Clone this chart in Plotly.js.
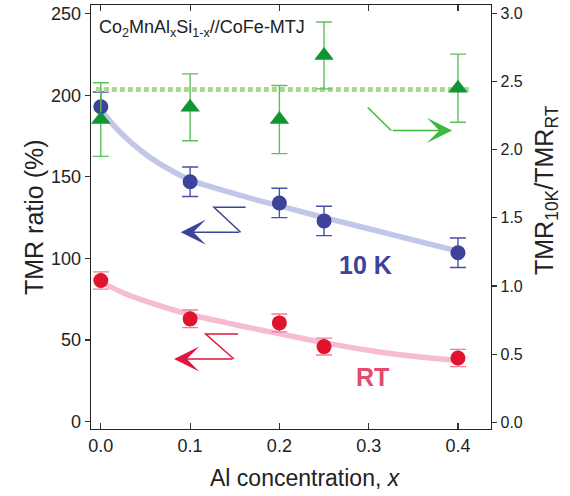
<!DOCTYPE html>
<html>
<head>
<meta charset="utf-8">
<script src="https://cdn.plot.ly/plotly-3.0.1.min.js"></script>
<style>html,body{margin:0;padding:0;background:#fff;}#chart{width:570px;height:496px;}</style>
</head>
<body>
<div id="chart"></div>
<script>
// Al concentration
const alX = [0.0, 0.1, 0.2, 0.25, 0.4];
// TMR ratio at 10 K (%)
const tmr10K = [193, 147, 134, 123, 103.5];
const tmr10KErr = [9, 9, 9, 9, 9];
// TMR ratio at RT (%)
const tmrRT = [86.5, 63, 60.5, 46, 39];
const tmrRTErr = [5.3, 5.4, 5.5, 5.2, 5.3];
// TMR10K / TMRRT (right axis)
const ratio = [2.22, 2.31, 2.22, 2.69, 2.45];
const ratioErr = [0.27, 0.245, 0.25, 0.245, 0.25];
// fitted guide curves
const fit10KX = [0, 0.013, 0.026, 0.045, 0.063, 0.082, 0.1, 0.14, 0.175, 0.21, 0.25, 0.3, 0.35, 0.4];
const fit10KY = [191, 182.5, 175, 166, 159, 153, 148, 141.2, 135.8, 130.8, 125, 118.2, 111.3, 104.5];
const fitRTX = [0, 0.026, 0.063, 0.1, 0.14, 0.175, 0.21, 0.25, 0.31, 0.35, 0.4];
const fitRTY = [85.5, 78.7, 71.5, 65.5, 60.7, 56.6, 52.8, 48.4, 42.8, 40.1, 37.4];
// average ratio line
const avgX = [-0.0055, 0.4155];
const avgY = [2.44, 2.44];

const FONT = 'Liberation Sans, Arial, Helvetica, sans-serif';
const blue = '#3d429a', red = '#e0142c', green = '#119433';

const traces = [
  {x: fit10KX, y: fit10KY, mode: 'lines', line: {color: '#c2c7e8', width: 5.5, shape: 'spline', smoothing: 0.6}, hoverinfo: 'skip', showlegend: false},
  {x: fitRTX, y: fitRTY, mode: 'lines', line: {color: '#f6bdd0', width: 5.5, shape: 'spline', smoothing: 0.6}, hoverinfo: 'skip', showlegend: false},
  {x: avgX, y: avgY, yaxis: 'y2', mode: 'lines', line: {color: '#a9d98c', width: 5, dash: '5px,3px'}, showlegend: false},
  {x: alX, y: tmr10K, mode: 'markers', marker: {color: blue, size: 15, symbol: 'circle'},
   error_y: {type: 'data', array: tmr10KErr, color: '#4a4fa2', thickness: 1.4, width: 8}, showlegend: false},
  {x: alX, y: tmrRT, mode: 'markers', marker: {color: red, size: 15, symbol: 'circle'},
   error_y: {type: 'data', array: tmrRTErr, color: '#f07ea0', thickness: 1.4, width: 8}, showlegend: false},
  {x: alX, y: ratio, yaxis: 'y2', mode: 'markers', marker: {color: green, size: 17, symbol: 'triangle-up'},
   error_y: {type: 'data', array: ratioErr, color: '#5cc05c', thickness: 1.4, width: 8}, showlegend: false}
];

function arrow(tipX, tipY, tailX, tailY, yref, color) {
  return {x: tipX, y: tipY, ax: tailX, ay: tailY, xref: 'x', yref: yref, axref: 'x', ayref: yref,
    text: '', showarrow: true, arrowhead: 3, arrowsize: 2.8, arrowwidth: 1.5, arrowcolor: color, standoff: 0};
}

const layout = {
  width: 570, height: 496,
  margin: {l: 91, r: 79, t: 5, b: 67},
  paper_bgcolor: '#fff', plot_bgcolor: '#fff',
  font: {family: FONT, color: '#222'},
  showlegend: false,
  xaxis: {
    range: [-0.011, 0.437], tickvals: [0, 0.1, 0.2, 0.3, 0.4], ticktext: ['0.0', '0.1', '0.2', '0.3', '0.4'],
    ticks: 'inside', ticklen: 6, tickwidth: 1.2, tickcolor: '#333', mirror: 'ticks',
    showline: true, linecolor: '#222', linewidth: 1.3, showgrid: false, zeroline: false,
    tickfont: {size: 18, family: FONT, color: '#222'}
  },
  yaxis: {
    range: [-4.5, 255.3], tickvals: [0, 50, 100, 150, 200, 250],
    ticks: 'outside', ticklen: 5, tickwidth: 1.2, tickcolor: '#333',
    showline: true, linecolor: '#222', linewidth: 1.3, showgrid: false, zeroline: false,
    tickfont: {size: 18, family: FONT, color: '#222'}
  },
  yaxis2: {
    overlaying: 'y', side: 'right', anchor: 'x',
    range: [-0.049, 3.06], tickvals: [0, 0.5, 1, 1.5, 2, 2.5, 3], ticktext: ['0.0', '0.5', '1.0', '1.5', '2.0', '2.5', '3.0'],
    ticks: 'outside', ticklen: 5, tickwidth: 1.2, tickcolor: '#333',
    showline: true, linecolor: '#222', linewidth: 1.3, showgrid: false, zeroline: false,
    tickfont: {size: 16, family: FONT, color: '#222'}
  },
  shapes: [
    {type: 'path', xref: 'x', yref: 'y', path: 'M0.1622,131.4 L0.1267,131.4 L0.1566,116.1', line: {color: blue, width: 1.5}},
    {type: 'path', xref: 'x', yref: 'y', path: 'M0.1536,53.7 L0.1174,53.7 L0.1491,38.4', line: {color: '#e0163f', width: 1.5}},
    {type: 'path', xref: 'x', yref: 'y2', path: 'M0.299,2.309 L0.3252,2.14', line: {color: '#3cb83c', width: 1.5}}
  ],
  annotations: [
    arrow(0.0895, 116.1, 0.1566, 116.1, 'y', blue),
    arrow(0.082, 38.4, 0.1491, 38.4, 'y', '#e0163f'),
    arrow(0.3934, 2.14, 0.3252, 2.14, 'y2', '#3cb83c'),
    {xref: 'paper', yref: 'paper', x: 0.015, y: 0.945, xanchor: 'left', yanchor: 'middle', showarrow: false,
     text: 'Co<sub>2</sub>MnAl<sub>x</sub>Si<sub>1-x</sub>//CoFe-MTJ', font: {size: 18, color: '#222', family: FONT}},
    {xref: 'paper', yref: 'paper', x: (365 - 91) / 400, y: (429 - 265) / 424, xanchor: 'center', yanchor: 'middle', showarrow: false,
     text: '<b>10 K</b>', font: {size: 25, color: blue, family: FONT}},
    {xref: 'paper', yref: 'paper', x: (372 - 91) / 400, y: (429 - 377) / 424, xanchor: 'center', yanchor: 'middle', showarrow: false,
     text: '<b>RT</b>', font: {size: 25, color: '#e64a6e', family: FONT}},
    {xref: 'paper', yref: 'paper', x: (34 - 91) / 400, y: 0.5, xanchor: 'center', yanchor: 'middle', showarrow: false, textangle: -90,
     text: 'TMR ratio (%)', font: {size: 25, color: '#222', family: FONT}},
    {xref: 'paper', yref: 'paper', x: (546 - 91) / 400, y: (429 - 190) / 424, xanchor: 'center', yanchor: 'middle', showarrow: false, textangle: -90,
     text: 'TMR<sub>10K</sub>/TMR<sub>RT</sub>', font: {size: 25, color: '#222', family: FONT}},
    {xref: 'paper', yref: 'paper', x: (305 - 91) / 400, y: (429 - 478) / 424, xanchor: 'center', yanchor: 'middle', showarrow: false,
     text: 'Al concentration, <i>x</i>', font: {size: 23, color: '#222', family: FONT}}
  ]
};

Plotly.newPlot('chart', traces, layout, {displayModeBar: false, staticPlot: true});
</script>
</body>
</html>
